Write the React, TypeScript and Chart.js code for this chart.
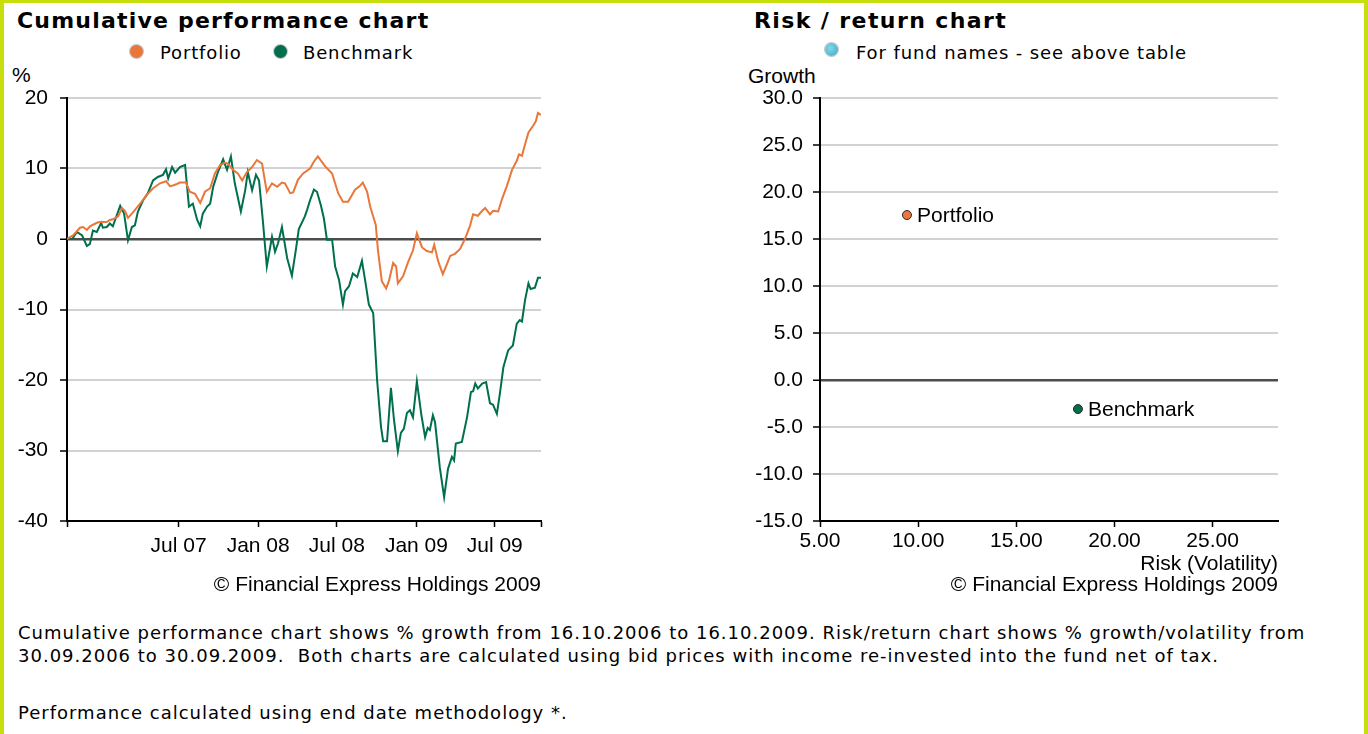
import React, { useEffect, useRef } from "react";
import { Chart, registerables } from "chart.js";

Chart.register(...registerables);

// ---------- Data ----------
const START_DATE = "2006-10-16";
const END_DATE = "2009-10-16";
const xTickDates = ["2007-07-01", "2008-01-01", "2008-07-01", "2009-01-01", "2009-07-01"];
const xTickLabels = ["Jul 07", "Jan 08", "Jul 08", "Jan 09", "Jul 09"];
const perfYTicks = [-40, -30, -20, -10, 0, 10, 20];

// days since 16.10.2006
const portfolioDays = [
  0, 14, 30, 37, 46, 53, 69, 76, 92, 99, 106, 118, 127, 134, 141, 153, 169, 185, 199, 215,
  229, 238, 245, 254, 261, 275, 284, 296, 308, 319, 331, 342, 354, 365, 372, 384, 395, 405, 416, 428,
  439, 451, 458, 462, 474, 486, 497, 504, 516, 523, 534, 546, 562, 571, 580, 597, 613, 627, 638, 650,
  666, 677, 684, 694, 701, 714, 719, 728, 738, 745, 754, 761, 765, 777, 788, 800, 809, 821, 832, 844,
  849, 858, 869, 879, 886, 897, 909, 920, 932, 939, 950, 960, 967, 978, 985, 997, 1006, 1017, 1029, 1040,
  1045, 1052, 1059, 1067, 1077, 1084, 1089, 1096,
];
const portfolioValues = [
  0, 0.5, 1.6, 1.7, 1.3, 1.8, 2.3, 2.4, 2.4, 2.7, 2.8, 3.2, 4.4, 4.0, 3.0, 3.8, 5.0, 6.3, 7.2, 7.9,
  8.2, 7.5, 7.6, 7.8, 8.0, 8.0, 6.7, 6.4, 5.1, 6.7, 7.2, 9.3, 10.5, 10.8, 10.7, 9.8, 9.3, 8.3, 9.5, 10.2,
  11.2, 10.7, 8.1, 6.7, 7.9, 7.4, 8.0, 7.9, 6.5, 6.6, 8.4, 9.3, 10.0, 11.0, 11.7, 10.3, 9.3, 6.5, 5.3, 5.3,
  7.0, 7.5, 8.0, 6.7, 4.6, 2.0, -1.6, -6.0, -7.0, -5.8, -3.4, -3.9, -6.3, -5.3, -3.4, -1.6, 0.8, -1.2, -1.7, -1.9,
  -0.8, -3.1, -5.0, -3.5, -2.4, -2.1, -1.4, 0, 1.9, 3.5, 3.3, 4.0, 4.4, 3.5, 4.0, 3.9, 5.7, 7.5, 9.8, 11.1,
  12.0, 11.8, 13.4, 15.1, 16.0, 16.7, 17.9, 17.6,
];

const benchmarkDays = [
  0, 12, 23, 35, 46, 53, 60, 69, 79, 83, 92, 99, 106, 123, 132, 141, 150, 157, 164, 176,
  187, 199, 210, 222, 229, 234, 243, 250, 261, 273, 282, 291, 301, 308, 314, 324, 331, 338, 349, 361,
  370, 379, 388, 402, 412, 418, 428, 437, 444, 453, 462, 474, 481, 488, 497, 509, 520, 529, 536, 550,
  555, 562, 571, 578, 587, 594, 601, 613, 620, 629, 638, 643, 652, 661, 671, 682, 691, 698, 708, 717,
  726, 731, 740, 749, 756, 765, 772, 779, 786, 793, 800, 809, 819, 828, 834, 839, 846, 851, 862, 872,
  881, 890, 895, 899, 913, 925, 934, 939, 944, 950, 960, 969, 978, 985, 994, 1001, 1009, 1020, 1031, 1040,
  1047, 1052, 1059, 1067, 1072, 1082, 1089, 1096,
];
const benchmarkValues = [
  0, 0, 1.0, 0.5, -1.0, -0.7, 1.2, 1.0, 2.3, 1.6, 1.7, 2.2, 1.8, 4.7, 3.6, -0.2, 1.7, 1.95, 3.9, 5.5,
  6.5, 8.3, 8.8, 9.1, 9.9, 8.6, 10.2, 9.4, 10.2, 10.5, 4.6, 5.0, 2.7, 1.8, 3.6, 4.6, 5.0, 7.4, 9.5, 11.3,
  9.8, 11.7, 7.9, 3.9, 6.9, 9.5, 6.9, 9.1, 8.3, 2.5, -3.9, 0.3, -1.8, -0.6, 1.7, -2.7, -5.2, -1.6, 1.4, 3.2,
  4.1, 5.5, 7.0, 6.7, 4.8, 2.9, -0.1, -0.1, -3.9, -5.8, -9.3, -7.4, -6.7, -4.9, -5.4, -3.1, -6.5, -9.3, -10.5, -20.0,
  -26.6, -28.7, -28.7, -21.1, -25.6, -30.1, -27.5, -26.9, -24.7, -24.3, -25.3, -20.2, -24.8, -28.1, -26.8, -27.1, -25.0, -26.0, -32.4, -36.6,
  -32.6, -30.9, -31.4, -29.0, -28.8, -25.3, -21.7, -21.6, -20.5, -21.2, -20.5, -20.3, -23.3, -23.5, -24.8, -21.9, -18.2, -15.8, -15.1, -12.0,
  -11.5, -11.7, -8.7, -6.3, -7.1, -6.9, -5.5, -5.5,
];

const riskNames = ["Portfolio", "Benchmark"];
const riskVolatility = [9.43, 18.14];
const riskGrowth = [17.55, -3.09];
const riskXTicks = [5, 10, 15, 20, 25];
const riskYTicks = [-15, -10, -5, 0, 5, 10, 15, 20, 25, 30];

const footerLine1 =
  "Cumulative performance chart shows % growth from 16.10.2006 to 16.10.2009. Risk/return chart shows % growth/volatility from";
const footerLine2 =
  "30.09.2006 to 30.09.2009.\u00a0 Both charts are calculated using bid prices with income re-invested into the fund net of tax.";
const footerLine3 = "Performance calculated using end date methodology *.";
const copyright = "\u00a9 Financial Express Holdings 2009";

// ---------- Styles ----------
const ORANGE = "#ea773a";
const GREEN = "#006f4e";
const FRAME = "#c6df0a";
const AXIS_FONT = "'Liberation Sans', Arial, sans-serif";
const TEXT_FONT = "'DejaVu Sans', Verdana, sans-serif";
const AXIS_SIZE = 21;

const dayOf = (s: string) => (Date.parse(s) - Date.parse(START_DATE)) / 86400000;
const TOTAL_DAYS = dayOf(END_DATE);

function PerformanceChart() {
  const ref = useRef<HTMLCanvasElement | null>(null);
  useEffect(() => {
    if (!ref.current) return;
    const tickDays = xTickDates.map(dayOf);
    const chart = new Chart(ref.current, {
      type: "line",
      data: {
        datasets: [
          {
            label: "Portfolio",
            data: portfolioDays.map((d, i) => ({ x: d, y: portfolioValues[i] })),
            borderColor: ORANGE,
            borderWidth: 2,
            pointRadius: 0,
            tension: 0,
          },
          {
            label: "Benchmark",
            data: benchmarkDays.map((d, i) => ({ x: d, y: benchmarkValues[i] })),
            borderColor: GREEN,
            borderWidth: 2,
            pointRadius: 0,
            tension: 0,
          },
        ],
      },
      options: {
        animation: false,
        responsive: false,
        maintainAspectRatio: false,
        layout: { padding: { left: 0, right: 59, top: 38, bottom: 0 } },
        plugins: { legend: { display: false }, tooltip: { enabled: false } },
        scales: {
          x: {
            type: "linear",
            min: 0,
            max: TOTAL_DAYS,
            afterBuildTicks: (s: any) => {
              s.ticks = [0, ...tickDays, TOTAL_DAYS].map((v) => ({ value: v }));
            },
            afterFit: (s: any) => {
              s.height = 79;
            },
            ticks: {
              autoSkip: false,
              maxRotation: 0,
              padding: 7,
              color: "#000",
              font: { family: AXIS_FONT, size: AXIS_SIZE },
              callback: (_v: any, i: number) => (i === 0 || i > xTickLabels.length ? "" : xTickLabels[i - 1]),
            },
            grid: { drawOnChartArea: false, drawTicks: true, tickLength: 6, color: "#000", tickWidth: 1.5 },
            border: { display: true, color: "#000", width: 2 },
          },
          y: {
            min: -40,
            max: 20,
            afterBuildTicks: (s: any) => {
              s.ticks = perfYTicks.map((v) => ({ value: v }));
            },
            afterFit: (s: any) => {
              s.width = 67;
            },
            ticks: { padding: 12, color: "#000", font: { family: AXIS_FONT, size: AXIS_SIZE } },
            grid: {
              color: (c: any) => (c.tick && c.tick.value === 0 ? "#4d4d4d" : "#d2d2d2"),
              lineWidth: (c: any) => (c.tick && c.tick.value === 0 ? 2.5 : 2),
              tickColor: "#000",
              tickLength: 7,
              tickWidth: 1.5,
            },
            border: { display: true, color: "#000", width: 2 },
          },
        },
      },
    } as any);
    return () => chart.destroy();
  }, []);
  return <canvas ref={ref} width={600} height={540} style={{ position: "absolute", left: 0, top: 60, width: 600, height: 540 }} />;
}

const pointLabelPlugin = {
  id: "pointLabels",
  afterDatasetsDraw(chart: any) {
    const ctx = chart.ctx;
    const meta = chart.getDatasetMeta(0);
    ctx.save();
    ctx.font = `${AXIS_SIZE}px ${AXIS_FONT}`;
    ctx.fillStyle = "#000";
    ctx.textBaseline = "middle";
    ctx.textAlign = "left";
    meta.data.forEach((el: any, i: number) => {
      ctx.fillText(riskNames[i], el.x + 10, el.y + 1);
    });
    ctx.restore();
  },
};

function RiskChart() {
  const ref = useRef<HTMLCanvasElement | null>(null);
  useEffect(() => {
    if (!ref.current) return;
    const chart = new Chart(ref.current, {
      type: "scatter",
      data: {
        datasets: [
          {
            data: riskVolatility.map((v, i) => ({ x: v, y: riskGrowth[i] })),
            backgroundColor: [ORANGE, GREEN],
            borderColor: "#2a2a2a",
            borderWidth: 1,
            pointRadius: 4.5,
          },
        ],
      },
      options: {
        animation: false,
        responsive: false,
        maintainAspectRatio: false,
        layout: { padding: { left: 0, right: 90, top: 38, bottom: 0 } },
        plugins: { legend: { display: false }, tooltip: { enabled: false } },
        scales: {
          x: {
            type: "linear",
            min: 5,
            max: 28.33,
            afterBuildTicks: (s: any) => {
              s.ticks = riskXTicks.map((v) => ({ value: v }));
            },
            afterFit: (s: any) => {
              s.height = 79;
            },
            ticks: {
              autoSkip: false,
              maxRotation: 0,
              padding: 2,
              color: "#000",
              font: { family: AXIS_FONT, size: AXIS_SIZE },
              callback: (v: any) => Number(v).toFixed(2),
            },
            grid: { drawOnChartArea: false, drawTicks: true, tickLength: 6, color: "#000", tickWidth: 1.5 },
            border: { display: true, color: "#000", width: 2 },
          },
          y: {
            min: -15,
            max: 30,
            afterBuildTicks: (s: any) => {
              s.ticks = riskYTicks.map((v) => ({ value: v }));
            },
            afterFit: (s: any) => {
              s.width = 120;
            },
            ticks: {
              padding: 10,
              color: "#000",
              font: { family: AXIS_FONT, size: AXIS_SIZE },
              callback: (v: any) => Number(v).toFixed(1),
            },
            grid: {
              color: (c: any) => (c.tick && c.tick.value === 0 ? "#4d4d4d" : "#d2d2d2"),
              lineWidth: (c: any) => (c.tick && c.tick.value === 0 ? 2.5 : 2),
              tickColor: "#000",
              tickLength: 7,
              tickWidth: 1.5,
            },
            border: { display: true, color: "#000", width: 2 },
          },
        },
      },
      plugins: [pointLabelPlugin],
    } as any);
    return () => chart.destroy();
  }, []);
  return <canvas ref={ref} width={668} height={540} style={{ position: "absolute", left: 700, top: 60, width: 668, height: 540 }} />;
}

const dot = (color: string, left: number, top: number): React.CSSProperties => ({
  position: "absolute",
  left,
  top,
  width: 13,
  height: 13,
  borderRadius: "50%",
  background: color,
  boxShadow: "0 0 0 1px rgba(90,90,90,0.35)",
});

export default function App() {
  useEffect(() => {
    document.body.style.margin = "0";
  }, []);
  const abs = (o: React.CSSProperties): React.CSSProperties => ({ position: "absolute", whiteSpace: "nowrap", color: "#000", ...o });
  const titleFont = `bold 22px ${TEXT_FONT}`;
  const legendFont = `18px ${TEXT_FONT}`;
  const axisFont = `${AXIS_SIZE}px ${AXIS_FONT}`;
  return (
    <div
      style={{
        position: "relative",
        width: 1368,
        height: 734,
        overflow: "hidden",
        background: "#fff",
        boxSizing: "border-box",
        borderLeft: `4px solid ${FRAME}`,
        borderTop: `3px solid ${FRAME}`,
        borderRight: `4px solid ${FRAME}`,
      }}
    >
      <div style={{ position: "absolute", left: -4, top: -3, width: 1368, height: 734 }}>
        <div style={abs({ left: 17, top: 8, font: titleFont, letterSpacing: "1.2px" })}>Cumulative performance chart</div>
        <div style={dot(ORANGE, 130, 45)} />
        <div style={abs({ left: 160, top: 42, font: legendFont, letterSpacing: "0.85px" })}>Portfolio</div>
        <div style={dot(GREEN, 274, 45)} />
        <div style={abs({ left: 303, top: 42, font: legendFont, letterSpacing: "0.85px" })}>Benchmark</div>
        <div style={abs({ left: 12, top: 63, font: axisFont })}>%</div>

        <div style={abs({ left: 754, top: 8, font: titleFont, letterSpacing: "1.4px" })}>Risk / return chart</div>
        <div
          style={{
            ...dot("#4fb6d0", 825, 43),
            background: "radial-gradient(circle at 40% 40%, #86d6e8, #3aa6c4)",
          }}
        />
        <div style={abs({ left: 856, top: 42, font: legendFont, letterSpacing: "0.9px" })}>For fund names - see above table</div>
        <div style={abs({ left: 748, top: 64, font: axisFont })}>Growth</div>

        <PerformanceChart />
        <RiskChart />

        <div style={abs({ right: 1368 - 541, top: 572, font: axisFont })}>{copyright}</div>
        <div style={abs({ right: 1368 - 1278, top: 551, font: axisFont })}>Risk (Volatility)</div>
        <div style={abs({ right: 1368 - 1278, top: 572, font: axisFont })}>{copyright}</div>

        <div style={abs({ left: 18, top: 621, font: `18px ${TEXT_FONT}`, lineHeight: "23px", letterSpacing: "1px" })}>
          {footerLine1}
          <br />
          {footerLine2}
        </div>
        <div style={abs({ left: 18, top: 701, font: `18px ${TEXT_FONT}`, lineHeight: "23px", letterSpacing: "1px" })}>{footerLine3}</div>
      </div>
    </div>
  );
}
